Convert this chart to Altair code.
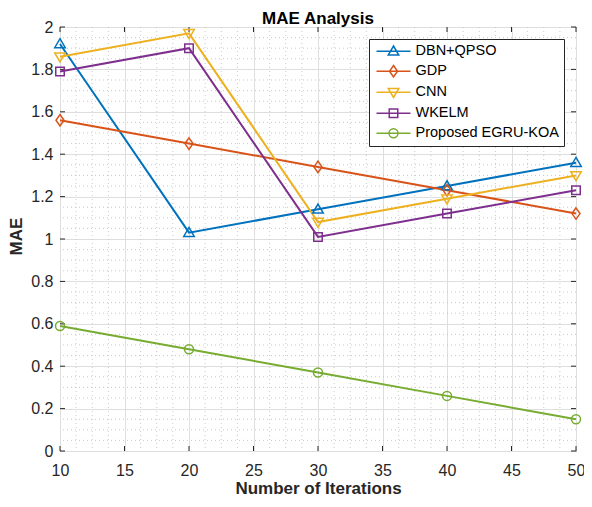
import altair as alt
import pandas as pd

# ---- data ----
iterations = [10, 20, 30, 40, 50]
series_names = ["DBN+QPSO", "GDP", "CNN", "WKELM", "Proposed EGRU-KOA"]
dbn_qpso = [1.92, 1.03, 1.14, 1.25, 1.36]
gdp = [1.56, 1.45, 1.34, 1.23, 1.12]
cnn = [1.86, 1.97, 1.08, 1.19, 1.30]
wkelm = [1.79, 1.90, 1.01, 1.12, 1.23]
egru_koa = [0.59, 0.48, 0.37, 0.26, 0.15]

x_ticks = [10, 15, 20, 25, 30, 35, 40, 45, 50]
y_ticks = [0, 0.2, 0.4, 0.6, 0.8, 1, 1.2, 1.4, 1.6, 1.8, 2]
x_minor = [10 + 1.25 * i for i in range(33) if (1.25 * i) % 5 != 0]
y_minor = [round(0.05 * i, 2) for i in range(41) if i % 4 != 0]

colors = ["#0072BD", "#D95319", "#EDB120", "#7E2F8E", "#77AC30"]

rows = []
for name, vals in zip(series_names, [dbn_qpso, gdp, cnn, wkelm, egru_koa]):
    for it, v in zip(iterations, vals):
        rows.append({"series": name, "iter": it, "mae": v})
df = pd.DataFrame(rows)

W, H = 516, 424

# marker geometry (unit coords, scaled by sqrt(size)/2)
def markers(dx):
    return [
        f"M{dx},-1.05L{dx+1.05},0.75L{dx-1.05},0.75Z",
        f"M{dx},-1.15L{dx+0.8},0L{dx},1.15L{dx-0.8},0Z",
        f"M{dx},1.05L{dx+1.05},-0.75L{dx-1.05},-0.75Z",
        f"M{dx-0.85},-0.85H{dx+0.85}V0.85H{dx-0.85}Z",
        f"M{dx+0.9},0A0.9,0.9,0,1,1,{dx-0.9},0A0.9,0.9,0,1,1,{dx+0.9},0Z",
    ]

plot_shapes = markers(0)
dx = 2.45
legend_shapes = [f"M{dx-3.4:.2f},0H{dx+3.4:.2f}" + m for m in markers(dx)]

xscale = alt.Scale(domain=[10, 50], nice=False, zero=False)
yscale = alt.Scale(domain=[0, 2], nice=False)

font = "Liberation Sans"

x_axis = alt.Axis(values=x_ticks, grid=True, gridColor="#dedede", domain=False,
                  ticks=False, tickSize=0, labelFontSize=16, labelFont=font,
                  labelColor="#262626", labelPadding=11, labelFlush=False,
                  title="Number of Iterations", titleFont=font, titleFontSize=17,
                  titleFontWeight="bold", titleColor="#262626",
                  titleX=W / 2, titleY=42, titleBaseline="alphabetic")
y_axis = alt.Axis(values=y_ticks, grid=True, gridColor="#dedede", domain=False,
                  ticks=False, tickSize=0, labelFontSize=16, labelFont=font,
                  labelColor="#262626", labelPadding=7, labelFlush=False,
                  labelExpr="format(datum.value, '~g')",
                  title="MAE", titleFont=font, titleFontSize=17,
                  titleFontWeight="bold", titleColor="#262626",
                  titleX=-44, titleY=209, titleAngle=270,
                  titleBaseline="middle", titleAlign="center")

base = alt.Chart(df)

lines = base.mark_line(strokeWidth=2).encode(
    x=alt.X("iter:Q", scale=xscale, axis=x_axis),
    y=alt.Y("mae:Q", scale=yscale, axis=y_axis),
    color=alt.Color("series:N", scale=alt.Scale(domain=series_names, range=colors), legend=None),
    detail="series:N",
)

points = base.mark_point(filled=False, strokeWidth=1.5, size=100, opacity=1).encode(
    x=alt.X("iter:Q", scale=xscale),
    y=alt.Y("mae:Q", scale=yscale),
    color=alt.Color("series:N", scale=alt.Scale(domain=series_names, range=colors), legend=None),
    shape=alt.Shape("series:N", scale=alt.Scale(domain=series_names, range=plot_shapes), legend=None),
)

leg = alt.Legend(title=None, orient="top-right", offset=12, labelFont=font,
                 labelFontSize=14.5, labelColor="#000000", labelOffset=27,
                 symbolSize=100, symbolStrokeWidth=1.5, symbolFillColor="transparent",
                 symbolOpacity=1,
                 strokeColor="#262626", fillColor="white", padding=5,
                 rowPadding=4, labelLimit=300)

legend_layer = base.transform_filter("false").mark_point(filled=False, opacity=1).encode(
    x=alt.X("iter:Q", scale=xscale),
    y=alt.Y("mae:Q", scale=yscale),
    shape=alt.Shape("series:N", scale=alt.Scale(domain=series_names, range=legend_shapes), legend=leg),
    color=alt.Color("series:N", scale=alt.Scale(domain=series_names, range=colors), legend=leg),
)

minor_x = alt.Chart(pd.DataFrame({"v": x_minor})).mark_rule(
    color="#c9c9c9", strokeDash=[1, 3], strokeWidth=1).encode(x=alt.X("v:Q", scale=xscale))
minor_y = alt.Chart(pd.DataFrame({"v": y_minor})).mark_rule(
    color="#c9c9c9", strokeDash=[1, 3], strokeWidth=1).encode(y=alt.Y("v:Q", scale=yscale))

tick_color = "#262626"
xt = pd.DataFrame({"v": x_ticks})
yt = pd.DataFrame({"v": y_ticks})
ticks_bottom = alt.Chart(xt).mark_rule(color=tick_color).encode(
    x=alt.X("v:Q", scale=xscale), y=alt.value(H), y2=alt.value(H - 5))
ticks_top = alt.Chart(xt).mark_rule(color=tick_color).encode(
    x=alt.X("v:Q", scale=xscale), y=alt.value(0), y2=alt.value(5))
ticks_left = alt.Chart(yt).mark_rule(color=tick_color).encode(
    y=alt.Y("v:Q", scale=yscale), x=alt.value(0), x2=alt.value(5))
ticks_right = alt.Chart(yt).mark_rule(color=tick_color).encode(
    y=alt.Y("v:Q", scale=yscale), x=alt.value(W), x2=alt.value(W - 5))

chart = alt.layer(
    minor_x, minor_y, ticks_bottom, ticks_top, ticks_left, ticks_right,
    lines, points, legend_layer
).resolve_scale(shape="independent", color="independent").properties(
    width=W, height=H,
    title=alt.TitleParams("MAE Analysis", font=font, fontSize=17, fontWeight="bold",
                          color="#000000", anchor="middle", frame="group",
                          offset=3, baseline="bottom", dy=29),
    autosize=alt.AutoSizeParams(type="none"),
    padding={"left": 52, "top": 19, "right": 8, "bottom": 48},
).configure_view(stroke="#404040", strokeWidth=1)

chart.save("out.html", embed_options={"renderer": "svg", "actions": False})
